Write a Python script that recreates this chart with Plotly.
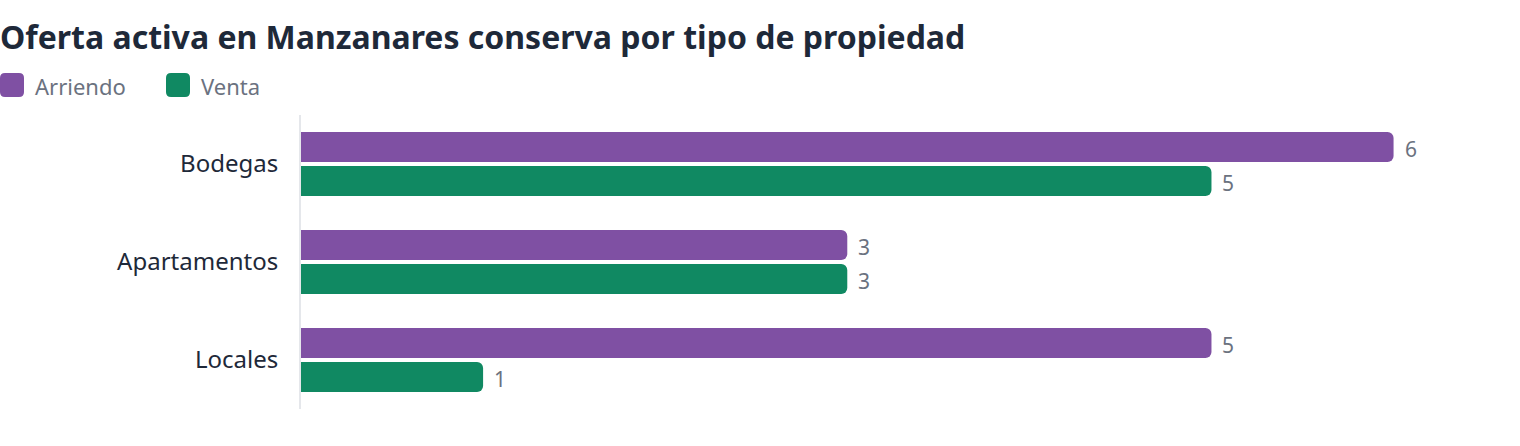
import plotly.graph_objects as go

categories = ["Bodegas", "Apartamentos", "Locales"]
arriendo = [6, 3, 5]
venta = [5, 3, 1]
series_names = ["Arriendo", "Venta"]
colors = ["#7f50a3", "#108962"]
title_text = "Oferta activa en Manzanares conserva por tipo de propiedad"

FONT = "Noto Sans"
fig = go.Figure()
for name, vals, col in zip(series_names, [arriendo, venta], colors):
    fig.add_trace(go.Bar(
        y=categories, x=vals, name=name, orientation="h",
        marker=dict(color=col, cornerradius=6, line=dict(width=0)),
        showlegend=False, hoverinfo="x+name",
        offsetgroup=name,
    ))

# value labels via annotations anchored to data
for ti, vals in enumerate([arriendo, venta]):
    for ci, (cat, v) in enumerate(zip(categories, vals)):
        fig.add_annotation(
            x=v, y=ci + (-0.175 if ti == 0 else 0.175), yref="y", xref="x",
            text=str(v), showarrow=False, xanchor="left", yanchor="middle",
            xshift=9, yshift=-2, font=dict(family=FONT, size=21, color="#6b7280"),
        )

# custom legend (rounded squares + labels)
L, T, PW, PH = 301, 115, 1200, 294
legend_x = [0, 166]
for i, (name, col) in enumerate(zip(series_names, colors)):
    a = legend_x[i] - L
    b = a + 24
    top = T - 73
    bot = T - 97
    r = 5
    path = (f"M {a + r},{top} L {b - r},{top} Q {b},{top} {b},{top - r} "
            f"L {b},{bot + r} Q {b},{bot} {b - r},{bot} "
            f"L {a + r},{bot} Q {a},{bot} {a},{bot + r} "
            f"L {a},{top - r} Q {a},{top} {a + r},{top} Z")
    fig.add_shape(
        type="path", xref="paper", yref="paper", xsizemode="pixel", ysizemode="pixel",
        xanchor=0, yanchor=1, path=path, fillcolor=col, line=dict(width=0),
    )
    fig.add_annotation(
        x=(legend_x[i] + 33 - L) / PW, y=1 + (T - 86) / PH, xref="paper", yref="paper",
        text=name, showarrow=False, xanchor="left", yanchor="middle",
        font=dict(family=FONT, size=22, color="#6b7280"),
    )

fig.update_layout(
    width=1520, height=446,
    margin=dict(l=301, r=19, t=115, b=37),
    paper_bgcolor="white", plot_bgcolor="white",
    barmode="group", bargap=0.306, bargroupgap=0.1176,
    title=dict(text=f"<b>{title_text}</b>", x=0, xref="container", xanchor="left",
               y=1 - 38 / 446, yanchor="middle", yref="container", pad=dict(l=0),
               font=dict(family=FONT, size=32, color="#1e2939")),
    font=dict(family=FONT, color="#1e2939"),
    xaxis=dict(range=[0, 6.59], showgrid=False, zeroline=False, showticklabels=False,
               showline=False, fixedrange=True),
    yaxis=dict(autorange="reversed", showgrid=False, zeroline=False,
               showline=True, linecolor="#e5e7eb", linewidth=2,
               ticks="", ticklabelstandoff=16,
               tickfont=dict(family=FONT, size=24, color="#1e2939")),
)

fig.write_html("out.html")
